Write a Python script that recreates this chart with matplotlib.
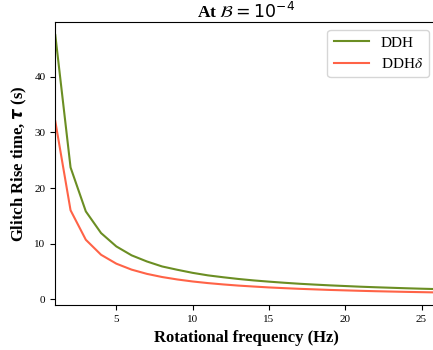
import numpy as np
import matplotlib
matplotlib.use('Agg')
import matplotlib.pyplot as plt

plt.rcParams['font.family'] = ['Liberation Serif', 'DejaVu Sans']

freq = [1, 2, 3, 4, 5, 6, 7, 8, 9, 10, 11, 12, 13, 14, 15, 16, 17, 18, 19, 20,
        21, 22, 23, 24, 25, 26]
ddh = [47.5, 23.7, 15.8, 11.9, 9.5, 7.9, 6.8, 5.9, 5.3, 4.75, 4.3, 3.96, 3.65,
       3.39, 3.17, 2.97, 2.79, 2.64, 2.5, 2.38, 2.26, 2.16, 2.07, 1.98, 1.9, 1.83]
ddh_delta = [32.0, 16.0, 10.7, 8.0, 6.4, 5.33, 4.57, 4.0, 3.56, 3.2, 2.91, 2.67,
             2.46, 2.29, 2.13, 2.0, 1.88, 1.78, 1.68, 1.6, 1.52, 1.45, 1.39,
             1.33, 1.28, 1.23]

fig = plt.figure(figsize=(4.33, 3.5), dpi=100)
ax = fig.add_axes([0.1277, 0.1277, 0.881, 0.809])

ax.plot(freq, ddh, color='olivedrab', lw=1.5, label='DDH')
ax.plot(freq, ddh_delta, color='tomato', lw=1.5, label=r'DDH$\delta$')

ax.set_xlim(1, 26)
ax.set_xticks([5, 10, 15, 20, 25])
ax.set_yticks([0, 10, 20, 30, 40])
ax.tick_params(labelsize=8)

ax.set_title(r'At $\mathcal{B}=10^{-4}$', fontsize=12.5, fontweight='bold', pad=3)
ax.set_xlabel('Rotational frequency (Hz)', fontsize=12, fontweight='bold')
ax.set_ylabel(r'Glitch Rise time, $\boldsymbol{\tau}$ (s)', fontsize=12,
              fontweight='bold')
leg = ax.legend(loc='upper right', fontsize=11, handlelength=2.3)
for t in leg.get_texts():
    t.set_math_fontfamily('stix')

fig.savefig('out.png', dpi=100)
